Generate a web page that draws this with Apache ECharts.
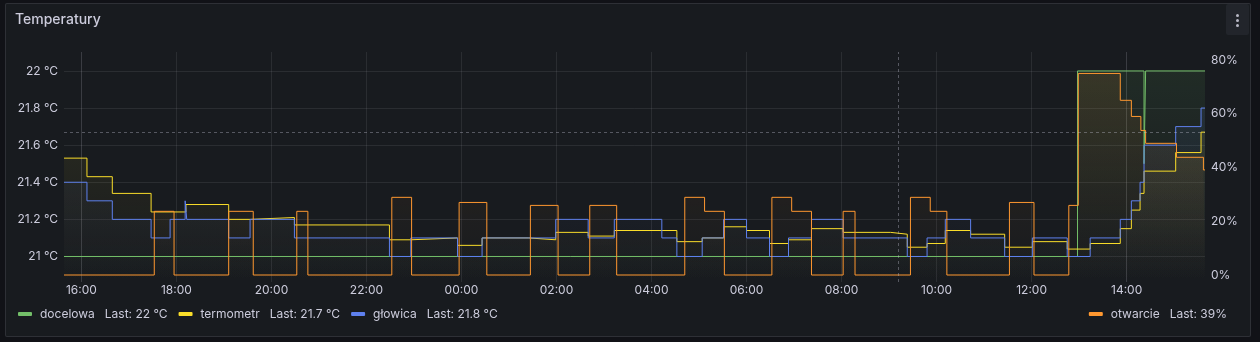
<!DOCTYPE html>
<html><head><meta charset="utf-8">
<script src="https://cdn.jsdelivr.net/npm/echarts@6/dist/echarts.min.js"></script>
<style>
html,body{margin:0;padding:0;background:#111217;width:1260px;height:342px;overflow:hidden;}
#panel{position:absolute;left:5px;top:3px;width:1246px;height:334px;background:#181b1f;border:1px solid rgba(204,204,220,0.12);border-radius:2px;box-sizing:border-box;}
#chart{position:absolute;left:0;top:0;width:1260px;height:342px;}
#menu{position:absolute;left:1226px;top:4px;width:23px;height:31px;background:#22252b;border-radius:2px;}
.dot{position:absolute;left:10px;width:3px;height:3px;border-radius:50%;background:#b8b8c4;}
</style></head>
<body>
<div id="panel"></div>
<div id="chart"></div>
<div id="menu"><div class="dot" style="top:10px"></div><div class="dot" style="top:15px"></div><div class="dot" style="top:20px"></div></div>
<script>
const D1 = '2024-03-10 ', D2 = '2024-03-11 ';
const startTime = D1 + '15:38';
const endTime = D2 + '15:39';
const crossTime = D2 + '09:12';
const crossTemp = 21.671;
const xTicks = [D1+'16:00',D1+'18:00',D1+'20:00',D1+'22:00',D2+'00:00',D2+'02:00',D2+'04:00',
                D2+'06:00',D2+'08:00',D2+'10:00',D2+'12:00',D2+'14:00'];

const docelowa = [
  [D1+'15:38',21.0],[D2+'12:58',22.0],[D2+'14:22',21.5],[D2+'14:24',22.0],[D2+'15:39',22.0]
];
const termometr = [
  [D1+'15:38',21.53],[D1+'16:07',21.43],[D1+'16:39',21.34],[D1+'17:28',21.24],[D1+'18:12',21.28],
  [D1+'19:06',21.20],[D1+'19:33',21.21],[D1+'20:29',21.17],[D1+'22:29',21.09],[D1+'22:56',21.10],
  [D1+'23:55',21.06],[D2+'00:26',21.10],[D2+'01:25',21.09],[D2+'01:59',21.13],[D2+'02:40',21.11],
  [D2+'03:13',21.14],[D2+'04:32',21.08],[D2+'05:04',21.10],[D2+'05:31',21.16],[D2+'06:00',21.14],
  [D2+'06:29',21.07],[D2+'06:53',21.09],[D2+'07:22',21.15],[D2+'08:02',21.13],[D2+'09:02',21.12],
  [D2+'09:23',21.05],[D2+'09:48',21.07],[D2+'10:11',21.14],[D2+'10:43',21.12],[D2+'11:26',21.05],
  [D2+'12:01',21.08],[D2+'12:45',21.04],[D2+'13:14',21.07],[D2+'13:52',21.15],[D2+'14:06',21.25],
  [D2+'14:17',21.34],[D2+'14:22',21.46],[D2+'15:02',21.56],[D2+'15:34',21.67],[D2+'15:39',21.67]
];
const glowica = [
  [D1+'15:38',21.4],[D1+'16:07',21.3],[D1+'16:39',21.2],[D1+'17:28',21.1],[D1+'17:52',21.2],
  [D1+'18:11',21.3],[D1+'18:13',21.2],[D1+'19:06',21.1],[D1+'19:33',21.2],[D1+'20:29',21.1],
  [D1+'22:29',21.0],[D1+'22:56',21.1],[D1+'23:55',21.0],[D2+'00:26',21.1],[D2+'01:59',21.2],
  [D2+'02:40',21.1],[D2+'03:13',21.2],[D2+'04:13',21.1],[D2+'04:32',21.0],[D2+'05:04',21.1],
  [D2+'05:31',21.2],[D2+'06:00',21.1],[D2+'06:29',21.0],[D2+'06:53',21.1],[D2+'07:22',21.2],
  [D2+'08:02',21.1],[D2+'09:23',21.0],[D2+'09:48',21.1],[D2+'10:11',21.2],[D2+'10:43',21.1],
  [D2+'11:26',21.0],[D2+'12:01',21.1],[D2+'12:45',21.0],[D2+'13:14',21.1],[D2+'13:52',21.2],
  [D2+'14:06',21.3],[D2+'14:17',21.4],[D2+'14:22',21.6],[D2+'15:02',21.7],[D2+'15:34',21.8],
  [D2+'15:39',21.8]
];
const otwarcie = [
  [D1+'15:38',0],[D1+'17:32',23.7],[D1+'17:57',0],[D1+'19:06',23.7],[D1+'19:37',0],
  [D1+'20:32',23.7],[D1+'20:46',0],[D1+'22:32',28.9],[D1+'22:57',0],[D1+'23:57',27.0],
  [D2+'00:32',0],[D2+'01:27',25.9],[D2+'02:02',0],[D2+'02:42',25.9],[D2+'03:16',0],
  [D2+'04:42',28.9],[D2+'05:07',23.7],[D2+'05:32',0],[D2+'06:32',28.9],[D2+'06:57',23.7],
  [D2+'07:22',0],[D2+'08:02',23.7],[D2+'08:17',0],[D2+'09:27',28.9],[D2+'09:52',23.7],
  [D2+'10:13',0],[D2+'11:32',27.0],[D2+'12:03',0],[D2+'12:47',25.9],[D2+'12:59',75.0],
  [D2+'13:52',65.0],[D2+'14:06',59.0],[D2+'14:18',53.8],[D2+'14:24',49.0],[D2+'15:03',43.8],
  [D2+'15:37',39.1],[D2+'15:39',39.1]
];
const leftMin = 20.8625, leftMax = 22.102;
const rightMin = -2.6, rightMax = 82.98;

const colors = {docelowa:'#73BF69', termometr:'#FADE2A', 'głowica':'#5E80EE', otwarcie:'#FF9830'};
const seriesData = {docelowa, termometr, 'głowica': glowica, otwarcie};
const units = {docelowa:'°C', termometr:'°C', 'głowica':'°C', otwarcie:'%'};

function toMs(s){ return new Date(s.replace(' ','T')).getTime(); }
function lastLabel(name){
  const arr = seriesData[name];
  const v = arr[arr.length-1][1];
  if (units[name] === '%') return Math.round(v) + '%';
  return (Math.round(v*10)/10) + ' °C';
}
function hexA(hex, a){
  const r = parseInt(hex.slice(1,3),16), g = parseInt(hex.slice(3,5),16), b = parseInt(hex.slice(5,7),16);
  return `rgba(${r},${g},${b},${a})`;
}
function mkSeries(name, yIdx){
  const c = colors[name];
  return {
    name, type:'line', step:'end', yAxisIndex:yIdx,
    data: seriesData[name].map(p => [toMs(p[0]), p[1]]),
    showSymbol:false, symbol:'none', lineStyle:{width:1, color:c}, itemStyle:{color:c},
    areaStyle:{origin:'start', color:{type:'linear', x:0, y:52, x2:0, y2:282, global:true,
      colorStops:[{offset:0,color:hexA(c,0.16)},{offset:1,color:hexA(c,0)}]}},
    silent:true, z: 2
  };
}
const textColor = '#ccccdc';
const font = 'Inter';
const s0 = mkSeries('docelowa',0);
s0.markLine = {silent:true, symbol:'none', label:{show:false},
  lineStyle:{color:'rgba(204,204,220,0.35)', width:1, type:[3,3]},
  data:[{xAxis: toMs(crossTime)}, {yAxis: crossTemp}]};
const legendRich = {a:{color:textColor, fontSize:12, fontFamily:font, padding:[0,0,0,3]},
                    b:{color:textColor, fontSize:12, fontFamily:font, padding:[0,0,0,10]}};
const xTickMs = xTicks.map(toMs);
const chart = echarts.init(document.getElementById('chart'), null, {renderer:'canvas'});
chart.setOption({
  animation:false,
  backgroundColor:'transparent',
  title:{text:'Temperatury', left:15, top:13, padding:0, textStyle:{color:textColor, fontSize:14, fontWeight:500, fontFamily:font}},
  grid:{left:64, right:55, top:52, bottom:60, containLabel:false},
  legend:[
    {data:['docelowa','termometr','głowica'], left:18, top:308, padding:0, icon:'roundRect', itemWidth:14, itemHeight:4, itemGap:11,
     textStyle:{color:textColor, fontSize:12, fontFamily:font, rich:legendRich},
     formatter: n => `{a|${n}}{b|Last: ${lastLabel(n)}}`, selectedMode:false},
    {data:['otwarcie'], right:33, top:308, padding:0, icon:'roundRect', itemWidth:14, itemHeight:4,
     textStyle:{color:textColor, fontSize:12, fontFamily:font, rich:legendRich},
     formatter: n => `{a|${n}}{b|Last: ${lastLabel(n)}}`, selectedMode:false}
  ],
  xAxis:{type:'time', min:toMs(startTime), max:toMs(endTime),
    axisLine:{show:false},
    axisTick:{show:false, customValues:xTickMs},
    axisLabel:{customValues:xTickMs, formatter:'{HH}:{mm}', color:textColor, fontSize:12, fontFamily:font, margin:2},
    splitLine:{show:true, lineStyle:{color:'rgba(204,204,220,0.1)', width:1}}},
  yAxis:[
    {type:'value', min:leftMin, max:leftMax, splitNumber:6, position:'left',
     axisLine:{show:false}, axisTick:{show:false},
     axisLabel:{color:textColor, fontSize:12, fontFamily:font, margin:6, showMinLabel:false, showMaxLabel:false,
       formatter: v => (Math.round(v*10)/10) + ' °C'},
     splitLine:{show:true, showMinLine:false, showMaxLine:false, lineStyle:{color:'rgba(204,204,220,0.1)', width:1}}},
    {type:'value', min:rightMin, max:rightMax, splitNumber:4, position:'right',
     axisLine:{show:false}, axisTick:{show:false}, splitLine:{show:false},
     axisLabel:{color:textColor, fontSize:12, fontFamily:font, margin:6, showMinLabel:false, showMaxLabel:false,
       formatter: v => Math.round(v) + '%'}}
  ],
  series:[s0, mkSeries('termometr',0), mkSeries('głowica',0), mkSeries('otwarcie',1)]
});
</script>
</body></html>
